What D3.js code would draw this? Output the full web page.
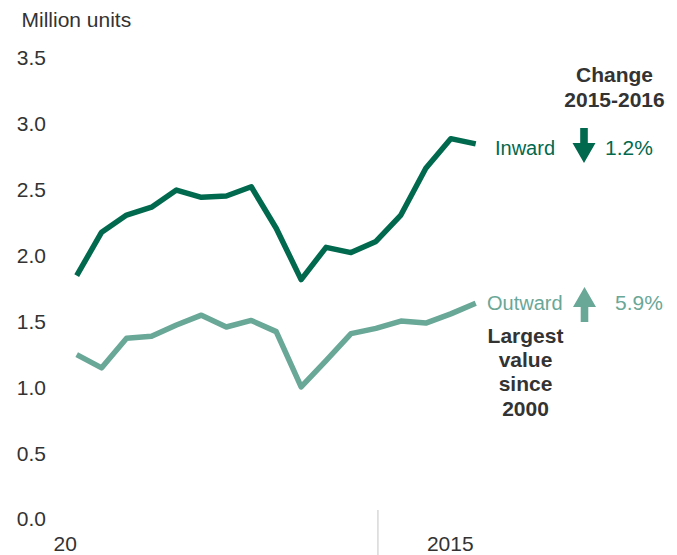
<!DOCTYPE html>
<html><head><meta charset="utf-8">
<script src="https://cdn.jsdelivr.net/npm/d3@7"></script>
<style>
html,body{margin:0;padding:0;background:#fff;}
svg{display:block;font-family:"Liberation Sans",Arial,sans-serif;}
</style></head>
<body>
<svg id="chart" width="677" height="555"></svg>
<script>
const years = [2000,2001,2002,2003,2004,2005,2006,2007,2008,2009,2010,2011,2012,2013,2014,2015,2016];
const inward  = [1.84,2.17,2.30,2.36,2.49,2.435,2.445,2.515,2.20,1.81,2.055,2.015,2.10,2.30,2.655,2.88,2.84];
const outward = [1.24,1.14,1.365,1.38,1.465,1.54,1.45,1.50,1.415,0.995,1.195,1.40,1.44,1.495,1.48,1.55,1.63];
const yTicks = [0,0.5,1.0,1.5,2.0,2.5,3.0,3.5];
const xTickYears = [2000,2015];
const xTickLabels = ["20","2015"];
const seriesNames = ["Inward","Outward"];
const changes = ["1.2%","5.9%"];
const changeDir = ["down","up"];
const colors = ["#00694E","#69A797"];
const textColor = "#333";

const svg = d3.select("#chart");
const x = d3.scaleLinear().domain([2000,2016]).range([76.7,475.7]);
const y = d3.scaleLinear().domain([0,3.5]).range([518,57]);

// y axis
const yAxis = d3.axisLeft(y).tickValues(yTicks).tickFormat(d3.format(".1f")).tickSize(0).tickPadding(0);
const gy = svg.append("g").attr("transform","translate(46,0)").call(yAxis);
gy.select(".domain").remove();
gy.selectAll("text").attr("font-size",21).attr("fill",textColor).attr("font-family","Liberation Sans, Arial, sans-serif").attr("dy","0.38em");

// unit label
svg.append("text").attr("x",21.5).attr("y",26.5).attr("font-size",21).attr("fill",textColor).text("Million units");

// x axis
const xAxis = d3.axisBottom(x).tickValues(xTickYears).tickFormat((d,i)=>xTickLabels[i]).tickSize(0).tickPadding(0);
const gx = svg.append("g").attr("transform","translate(0,535)").call(xAxis);
gx.select(".domain").remove();
gx.selectAll("text").attr("font-size",21).attr("fill",textColor).attr("font-family","Liberation Sans, Arial, sans-serif")
  .attr("dy","0.76em").attr("dx",(d,i)=> i===0 ? -12 : -1);

// separator line
svg.append("line").attr("x1",x(2012)+2).attr("x2",x(2012)+2).attr("y1",510).attr("y2",555)
  .attr("stroke","#c4c4c4").attr("stroke-width",1);

// lines
const line = d3.line().x((d,i)=>x(years[i])).y(d=>y(d));
[inward,outward].forEach((s,k)=>{
  svg.append("path").datum(s).attr("d",line).attr("fill","none")
    .attr("stroke",colors[k]).attr("stroke-width",5.5).attr("stroke-linejoin","round").attr("stroke-linecap","butt");
});

// series labels
const labelPos = [{x:495,y:155},{x:487,y:310}];
seriesNames.forEach((n,k)=>{
  svg.append("text").attr("x",labelPos[k].x).attr("y",labelPos[k].y).attr("font-size",20)
    .attr("fill",colors[k]).text(n);
});

// arrows
function arrowPath(dir){
  // pointing down, centered at 0, top at 0
  const p = d3.path();
  p.moveTo(-3.8,0); p.lineTo(3.8,0); p.lineTo(3.8,15); p.lineTo(11.5,15);
  p.lineTo(0,35); p.lineTo(-11.5,15); p.lineTo(-3.8,15); p.closePath();
  return p.toString();
}
const arrowPos = [{x:584,y:128},{x:584.5,y:322}];
changeDir.forEach((dir,k)=>{
  const t = dir==="down" ? `translate(${arrowPos[k].x},${arrowPos[k].y})` : `translate(${arrowPos[k].x},${arrowPos[k].y}) scale(1,-1)`;
  svg.append("path").attr("d",arrowPath(dir)).attr("transform",t).attr("fill",colors[k]);
});

// change values
const changePos = [{x:605,y:155},{x:615,y:310}];
changes.forEach((c,k)=>{
  svg.append("text").attr("x",changePos[k].x).attr("y",changePos[k].y).attr("font-size",21)
    .attr("fill",colors[k]).text(c);
});

// header
const header = ["Change","2015-2016"];
header.forEach((h,i)=>{
  svg.append("text").attr("x",614.5).attr("y",82+i*25).attr("text-anchor","middle")
    .attr("font-size",21).attr("font-weight","bold").attr("fill",textColor).text(h);
});

// note
const note = ["Largest","value","since","2000"];
note.forEach((h,i)=>{
  svg.append("text").attr("x",525.5).attr("y",343+i*24.2).attr("text-anchor","middle")
    .attr("font-size",21).attr("font-weight","bold").attr("fill",textColor).text(h);
});
</script>
</body></html>
